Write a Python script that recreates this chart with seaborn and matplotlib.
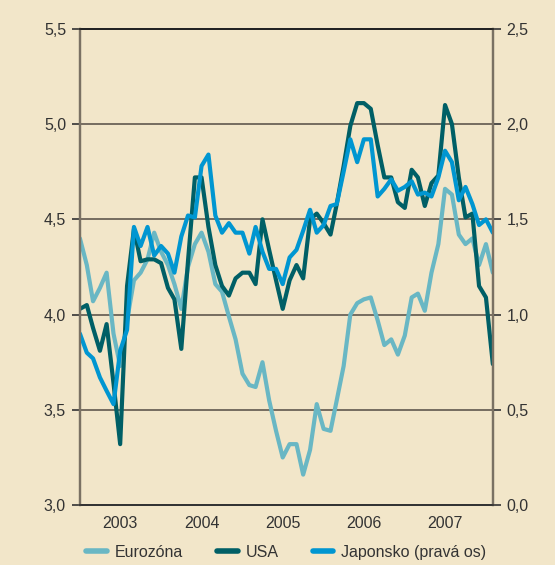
import pandas as pd
import numpy as np
import seaborn as sns
import matplotlib.pyplot as plt
import matplotlib.dates as mdates
from matplotlib.ticker import FuncFormatter
from matplotlib.lines import Line2D

# monthly data, Jan 2003 - Feb 2008
months = pd.date_range("2003-01-01", periods=62, freq="MS")

eurozona = [4.40, 4.26, 4.07, 4.14, 4.22, 3.90, 3.73, 3.97, 4.18, 4.22, 4.29, 4.43,
            4.33, 4.26, 4.16, 4.03, 4.25, 4.37, 4.43, 4.33, 4.16, 4.12, 3.99, 3.87,
            3.69, 3.63, 3.62, 3.75, 3.55, 3.39, 3.25, 3.32, 3.32, 3.16, 3.29, 3.53,
            3.40, 3.39, 3.55, 3.73, 4.00, 4.06, 4.08, 4.09, 3.97, 3.84, 3.87, 3.79,
            3.89, 4.09, 4.11, 4.02, 4.22, 4.37, 4.66, 4.63, 4.42, 4.37, 4.40, 4.26,
            4.37, 4.22]

usa = [4.03, 4.05, 3.93, 3.81, 3.95, 3.64, 3.32, 4.15, 4.45, 4.28, 4.29, 4.29,
       4.27, 4.14, 4.08, 3.82, 4.28, 4.72, 4.72, 4.46, 4.26, 4.15, 4.10, 4.19,
       4.22, 4.22, 4.16, 4.50, 4.34, 4.18, 4.03, 4.18, 4.26, 4.19, 4.50, 4.53,
       4.48, 4.42, 4.58, 4.78, 4.99, 5.11, 5.11, 5.08, 4.89, 4.72, 4.72, 4.59,
       4.56, 4.76, 4.72, 4.57, 4.69, 4.73, 5.10, 5.00, 4.72, 4.51, 4.53, 4.15,
       4.09, 3.74]

# right axis
japonsko = [0.90, 0.80, 0.77, 0.67, 0.60, 0.53, 0.81, 0.92, 1.46, 1.36, 1.46, 1.31,
            1.36, 1.32, 1.22, 1.41, 1.52, 1.51, 1.78, 1.84, 1.52, 1.43, 1.48, 1.43,
            1.43, 1.32, 1.46, 1.33, 1.24, 1.24, 1.16, 1.30, 1.34, 1.44, 1.55, 1.43,
            1.47, 1.57, 1.58, 1.75, 1.92, 1.80, 1.92, 1.92, 1.62, 1.66, 1.71, 1.65,
            1.67, 1.70, 1.63, 1.64, 1.62, 1.72, 1.86, 1.80, 1.60, 1.67, 1.58, 1.47,
            1.50, 1.43]

labels = ["Eurozóna", "USA", "Japonsko (pravá os)"]
years = ["2003", "2004", "2005", "2006", "2007"]
left_ticks = [3.0, 3.5, 4.0, 4.5, 5.0, 5.5]
right_ticks = [0.0, 0.5, 1.0, 1.5, 2.0, 2.5]

bg = "#f2e6c9"
c_eu = "#69b7c4"
c_us = "#005f66"
c_jp = "#0096d1"
txt = "#333333"

df = pd.DataFrame({"month": months, "eu": eurozona, "us": usa, "jp": japonsko})

sns.set_style("white", {"axes.facecolor": bg, "figure.facecolor": bg})
plt.rcParams["font.family"] = ["Liberation Sans Narrow", "Liberation Sans", "DejaVu Sans"]

fig = plt.figure(figsize=(5.55, 5.65), dpi=100)
ax = fig.add_axes([0.144, 0.106, 0.744, 0.843])
ax2 = ax.twinx()

lw = 3.0
sns.lineplot(data=df, x="month", y="eu", ax=ax, color=c_eu, lw=lw)
sns.lineplot(data=df, x="month", y="us", ax=ax, color=c_us, lw=lw)
sns.lineplot(data=df, x="month", y="jp", ax=ax2, color=c_jp, lw=lw)

ax.set_xlim(months[0], months[-1])
ax.set_ylim(3.0, 5.5)
ax2.set_ylim(0.0, 2.5)

for v in left_ticks[1:-1]:
    ax.axhline(v, color="#6b6357", lw=1.3, zorder=0)

comma = FuncFormatter(lambda v, p: f"{v:.1f}".replace(".", ","))
ax.set_yticks(left_ticks)
ax.yaxis.set_major_formatter(comma)
ax2.set_yticks(right_ticks)
ax2.yaxis.set_major_formatter(comma)

# year boundaries as ticks, labels centred in each year
bounds = [pd.Timestamp(f"{y}-01-01") for y in years] + [months[-1]]
ax.set_xticks(bounds)
ax.set_xticklabels([])
ax.set_xticks([pd.Timestamp(f"{y}-07-01") for y in years], minor=True)
ax.set_xticklabels(years, minor=True)
ax.tick_params(axis="x", which="minor", length=0, pad=8, labelsize=11.5, labelcolor=txt)
ax.tick_params(axis="x", which="major", length=6, width=1.2, color="#333333", direction="out")
ax.tick_params(axis="y", length=6, width=1.2, color="#333333", direction="out",
               labelsize=11.5, labelcolor=txt, pad=4)
ax2.tick_params(axis="y", length=6, width=1.2, color="#333333", direction="out",
                labelsize=11.5, labelcolor=txt, pad=4)

ax.set_xlabel("")
ax.set_ylabel("")
ax2.set_ylabel("")

for a in (ax, ax2):
    a.spines["top"].set_color("#222222")
    a.spines["top"].set_linewidth(1.3)
    a.spines["bottom"].set_color("#333333")
    a.spines["bottom"].set_linewidth(1.3)
    a.spines["left"].set_color("#7a7163")
    a.spines["left"].set_linewidth(1.6)
    a.spines["right"].set_color("#7a7163")
    a.spines["right"].set_linewidth(1.6)

handles = [Line2D([], [], color=c, lw=4, solid_capstyle="round") for c in (c_eu, c_us, c_jp)]
fig.legend(handles, labels, loc="center", ncol=3, mode="expand", frameon=False,
           bbox_to_anchor=(0.144, 0.0, 0.744, 0.046), fontsize=11.5,
           handlelength=1.3, handletextpad=0.5, labelcolor=txt, borderaxespad=0)

fig.savefig("out.png", dpi=100, facecolor=bg)
